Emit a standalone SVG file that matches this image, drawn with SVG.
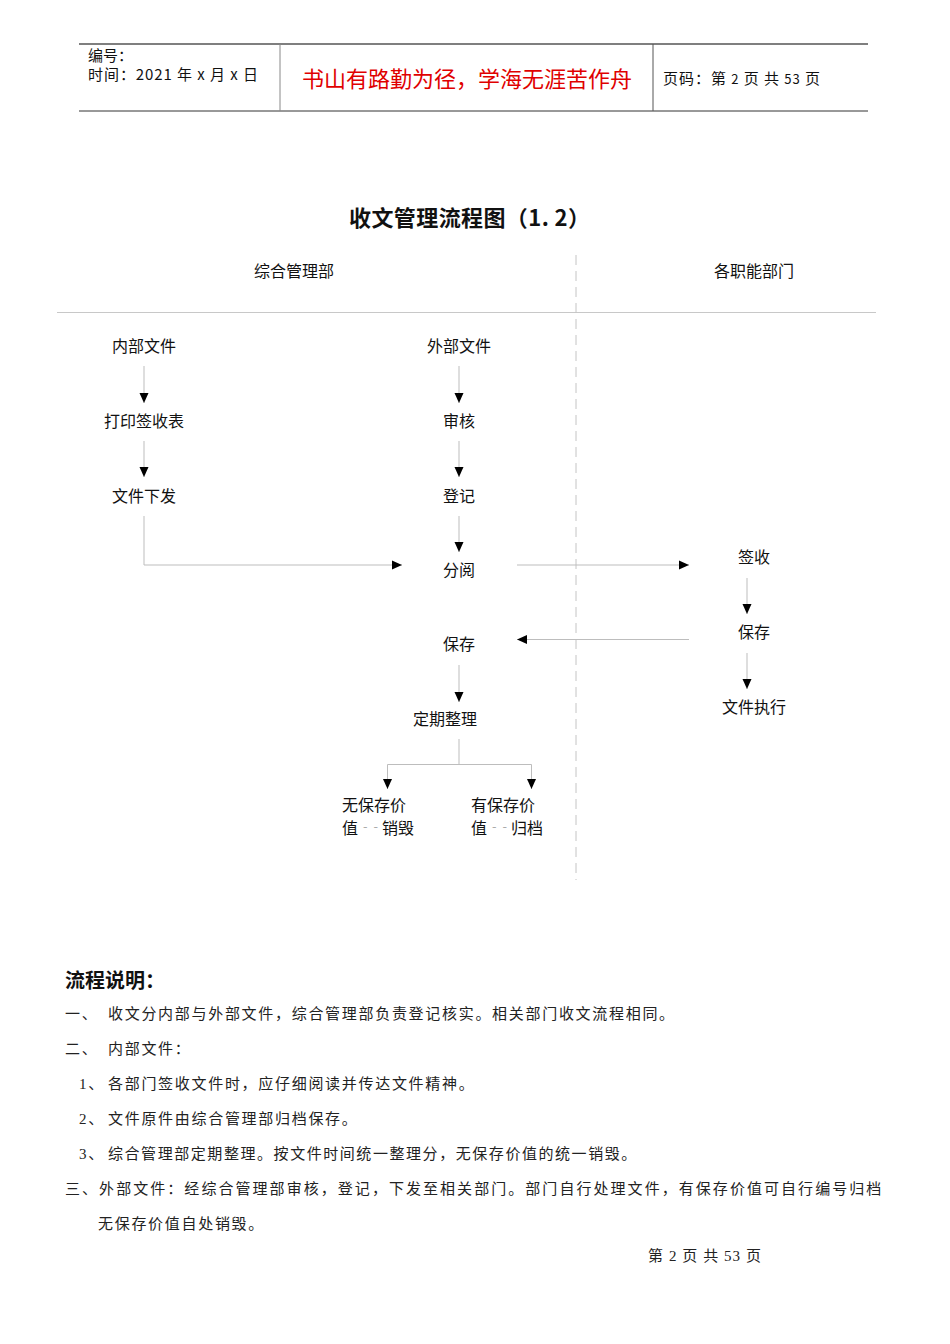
<svg xmlns="http://www.w3.org/2000/svg" width="950" height="1344" viewBox="0 0 950 1344">
<style>
.sans{font-family:"Noto Sans CJK SC","Liberation Sans",sans-serif;fill:#111}
.node{font-size:16px;text-anchor:middle}
.lane{font-size:16px;text-anchor:middle}
.body{font-family:"Liberation Serif","Noto Sans CJK SC",serif;font-size:15px;fill:#222;letter-spacing:1.7px}
.conn{fill:none;stroke:#bdbdbd;stroke-width:1}
.dash{fill:#aaa}
</style>
<defs>
<marker id="ah" viewBox="0 0 10 10" refX="10" refY="5" markerWidth="10" markerHeight="10" markerUnits="userSpaceOnUse" orient="auto">
<path d="M0,0.5 L10,5 L0,9.5 z" fill="#000"/>
</marker>
</defs>
<rect width="950" height="1344" fill="#fff"/>

<g id="header">
<line x1="79" y1="44" x2="868" y2="44" stroke="#555" stroke-width="1.3"/>
<line x1="79" y1="111" x2="868" y2="111" stroke="#333" stroke-width="1"/>
<line x1="280" y1="44" x2="280" y2="111" stroke="#888" stroke-width="1"/>
<line x1="653" y1="44" x2="653" y2="111" stroke="#555" stroke-width="1"/>
<text class="sans" x="88" y="61" font-size="15">编号：</text>
<text class="sans" x="88" y="80" font-size="15" textLength="170" lengthAdjust="spacing">时间：2021 年 x 月 x 日</text>
<text class="sans" x="467" y="87" font-size="22" text-anchor="middle" style="fill:#e00000">书山有路勤为径，学海无涯苦作舟</text>
<text class="sans" x="663" y="84" font-size="15" textLength="157" lengthAdjust="spacing">页码：第 <tspan font-size="13">2</tspan> 页  共 <tspan font-size="13">53</tspan> 页</text>
</g>

<g id="title">
<text class="sans" x="349" y="226" font-size="22" font-weight="bold" textLength="241" lengthAdjust="spacing">收文管理流程图（1. 2）</text>
</g>

<g id="lanes">
<text class="sans lane" x="294" y="277">综合管理部</text>
<text class="sans lane" x="754" y="277">各职能部门</text>
<line x1="57" y1="312.5" x2="876" y2="312.5" stroke="#c8c8c8" stroke-width="1"/>
<line x1="576" y1="255" x2="576" y2="880" stroke="#c4c4c4" stroke-width="1" stroke-dasharray="10,6"/>
</g>

<g id="connectors">
<path class="conn" d="M144,366 V403" marker-end="url(#ah)"/>
<path class="conn" d="M144,441 V477" marker-end="url(#ah)"/>
<path class="conn" d="M144,516 V565 H402" marker-end="url(#ah)"/>
<path class="conn" d="M459,366 V403" marker-end="url(#ah)"/>
<path class="conn" d="M459,441 V477" marker-end="url(#ah)"/>
<path class="conn" d="M459,516 V552" marker-end="url(#ah)"/>
<path class="conn" d="M517,565 H689" marker-end="url(#ah)"/>
<path class="conn" d="M747,578 V614" marker-end="url(#ah)"/>
<path class="conn" d="M747,653 V689" marker-end="url(#ah)"/>
<path class="conn" d="M689,639.5 H517" marker-end="url(#ah)"/>
<path class="conn" d="M459,665 V702" marker-end="url(#ah)"/>
<path class="conn" d="M459,739 V764.5"/>
<path class="conn" d="M387.5,789 V764.5 H531.5 V789"/>
<path class="conn" d="M387.5,780 V789" marker-end="url(#ah)"/>
<path class="conn" d="M531.5,780 V789" marker-end="url(#ah)"/>
</g>

<g id="n-neibu"><text class="sans node" x="144" y="352">内部文件</text></g>
<g id="n-dayin"><text class="sans node" x="144" y="427">打印签收表</text></g>
<g id="n-xiafa"><text class="sans node" x="144" y="502">文件下发</text></g>
<g id="n-waibu"><text class="sans node" x="459" y="352">外部文件</text></g>
<g id="n-shenhe"><text class="sans node" x="459" y="427">审核</text></g>
<g id="n-dengji"><text class="sans node" x="459" y="502">登记</text></g>
<g id="n-fenyue"><text class="sans node" x="459" y="576">分阅</text></g>
<g id="n-qianshou"><text class="sans node" x="754" y="563">签收</text></g>
<g id="n-baocun-r"><text class="sans node" x="754" y="638">保存</text></g>
<g id="n-zhixing"><text class="sans node" x="754" y="713">文件执行</text></g>
<g id="n-baocun-l"><text class="sans node" x="459" y="650">保存</text></g>
<g id="n-zhengli"><text class="sans node" x="445" y="725">定期整理</text></g>
<g id="n-xiaohui">
<text class="sans" x="342" y="811" font-size="16">无保存价</text>
<text class="sans" x="342" y="834" font-size="16">值</text>
<text class="sans dash" x="363" y="831" font-size="13" textLength="15" lengthAdjust="spacing">--</text>
<text class="sans" x="382" y="834" font-size="16">销毁</text>
</g>
<g id="n-guidang">
<text class="sans" x="471" y="811" font-size="16">有保存价</text>
<text class="sans" x="471" y="834" font-size="16">值</text>
<text class="sans dash" x="492" y="831" font-size="13" textLength="15" lengthAdjust="spacing">--</text>
<text class="sans" x="511" y="834" font-size="16">归档</text>
</g>

<g id="notes">
<text class="sans" x="65" y="988" font-size="20" font-weight="bold">流程说明：</text>
<text class="body" x="65" y="1019">一、</text>
<text class="body" x="108" y="1019">收文分内部与外部文件，综合管理部负责登记核实。相关部门收文流程相同。</text>
<text class="body" x="65" y="1054">二、</text>
<text class="body" x="108" y="1054">内部文件：</text>
<text class="body" x="79" y="1089">1、</text>
<text class="body" x="108" y="1089">各部门签收文件时，应仔细阅读并传达文件精神。</text>
<text class="body" x="79" y="1124">2、</text>
<text class="body" x="108" y="1124">文件原件由综合管理部归档保存。</text>
<text class="body" x="79" y="1159">3、</text>
<text class="body" x="108" y="1159" textLength="530" lengthAdjust="spacing">综合管理部定期整理。按文件时间统一整理分，无保存价值的统一销毁。</text>
<text class="body" x="65" y="1194" textLength="818" lengthAdjust="spacing">三、外部文件：经综合管理部审核，登记，下发至相关部门。部门自行处理文件，有保存价值可自行编号归档</text>
<text class="body" x="98" y="1229">无保存价值自处销毁。</text>
<text class="body" x="648" y="1261" font-size="13" style="letter-spacing:0" textLength="113" lengthAdjust="spacing">第 2 页 共 53 页</text>
</g>
</svg>
